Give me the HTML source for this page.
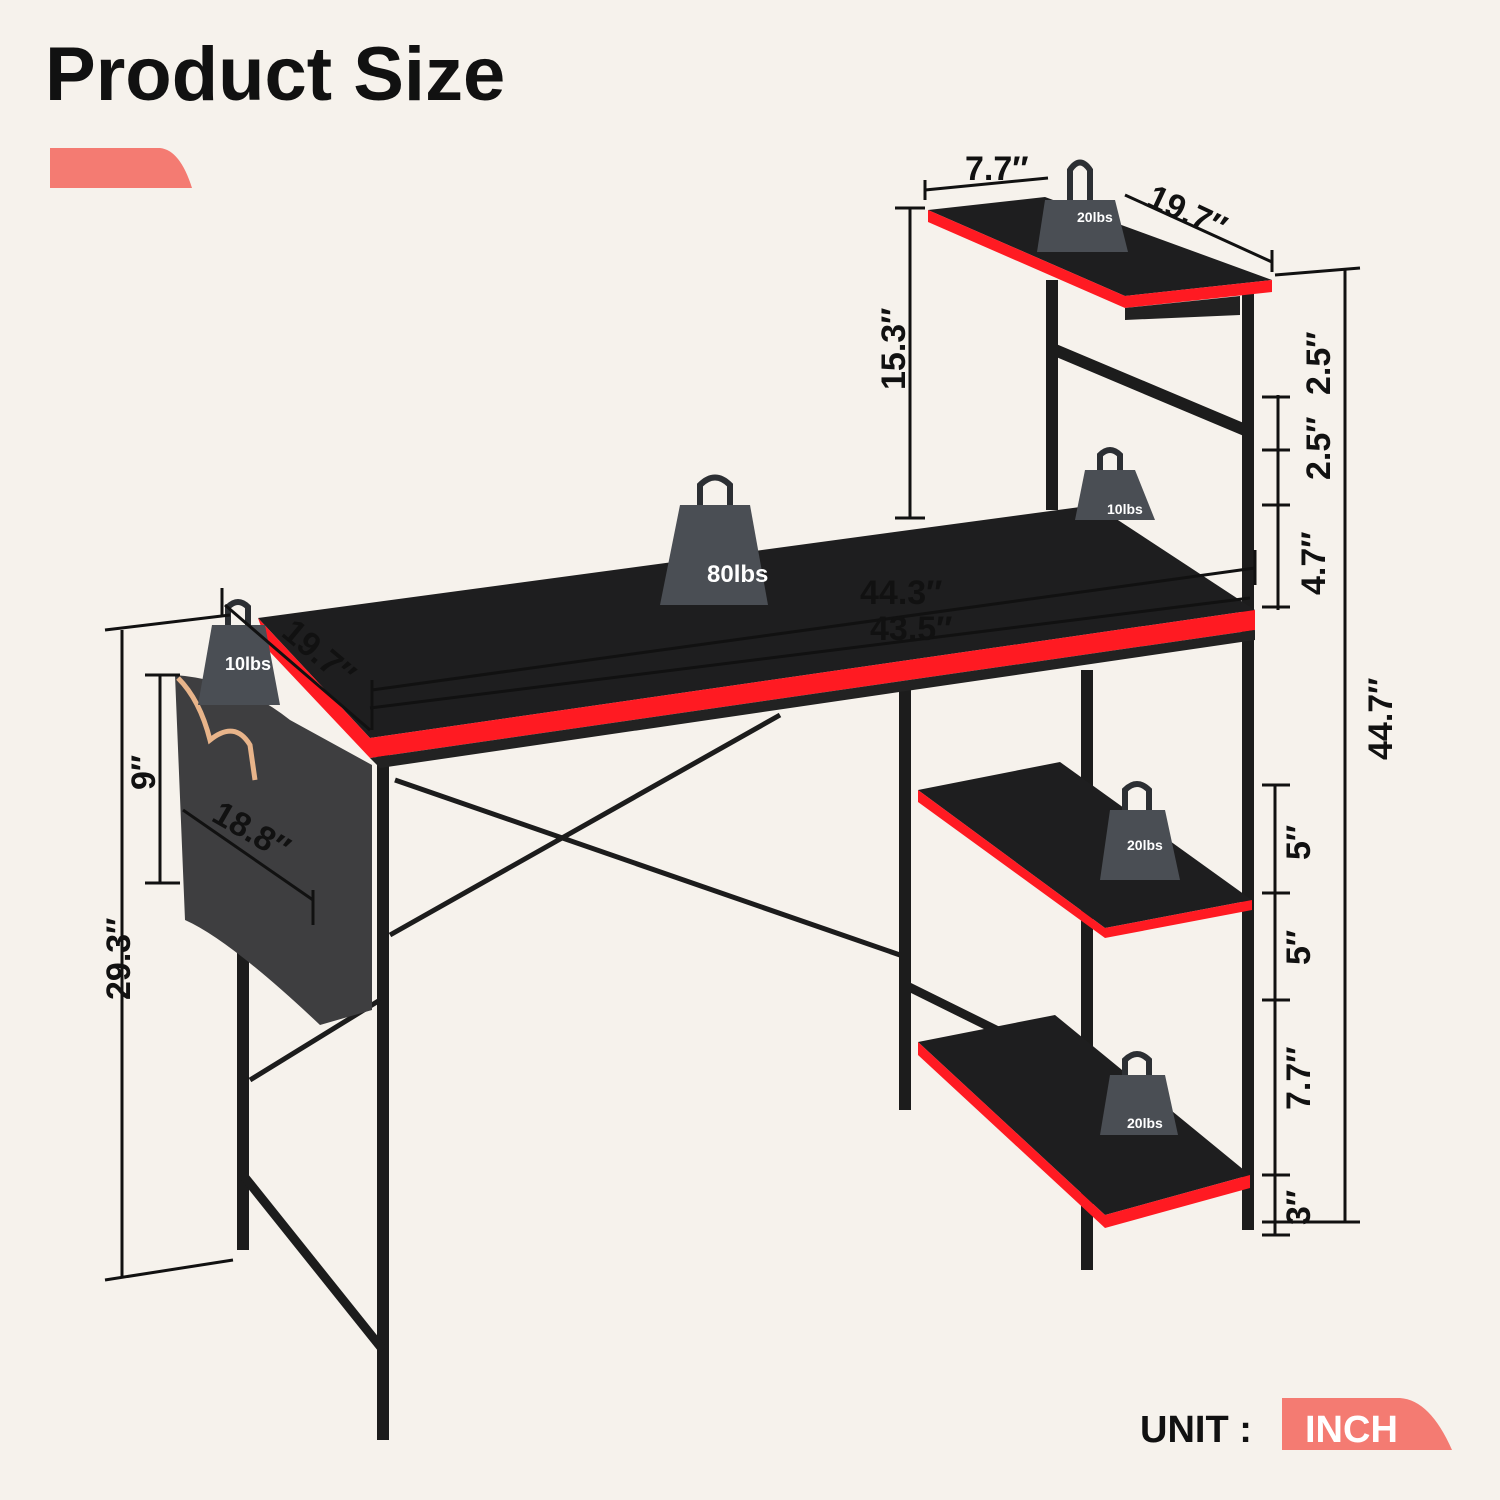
<!DOCTYPE html>
<html><head><meta charset="utf-8"><style>
html,body{margin:0;padding:0;background:#f6f2ec;overflow:hidden;}
svg{display:block}
text{font-family:"Liberation Sans",sans-serif;font-weight:bold;}
</style></head><body>
<svg width="1500" height="1500" viewBox="0 0 1500 1500" xmlns="http://www.w3.org/2000/svg">
<rect width="1500" height="1500" fill="#f6f2ec"/>
<text x="45" y="100" font-size="76" fill="#111">Product Size</text>
<path d="M50 148 H160 Q180 150 192 188 H50 Z" fill="#f47b72"/>

<g stroke="#1c1c1c" fill="none" stroke-width="12">
<line x1="383" y1="755" x2="383" y2="1440"/>
<line x1="243" y1="930" x2="243" y2="1250"/>
<line x1="1087" y1="670" x2="1087" y2="1270"/>
<line x1="905" y1="690" x2="905" y2="1110"/>
<line x1="1248" y1="290" x2="1248" y2="1230"/>
<line x1="1052" y1="280" x2="1052" y2="510"/>
<line x1="243" y1="1175" x2="383" y2="1350" stroke-width="9"/>
<line x1="905" y1="985" x2="1087" y2="1075" stroke-width="9"/>
</g>
<g stroke="#1c1c1c" stroke-width="5">
<line x1="395" y1="780" x2="900" y2="955"/>
<line x1="390" y1="935" x2="780" y2="715"/>
<line x1="250" y1="1080" x2="380" y2="1000"/>
<line x1="1055" y1="350" x2="1245" y2="430" stroke-width="12"/>
</g>
<polygon points="258,618 1095,505 1255,610 370,738" fill="#1e1e1f"/>
<polygon points="370,738 1255,610 1255,630 370,758" fill="#ff1a22"/>
<polygon points="258,618 370,738 370,758 270,652" fill="#ff1a22"/>
<polygon points="370,758 1255,630 1255,640 380,768" fill="#222"/>
<polygon points="928,210 1045,197 1272,280 1125,296" fill="#1e1e1f"/>
<polygon points="928,210 1125,296 1125,308 928,222" fill="#ff1a22"/>
<polygon points="1125,296 1272,280 1272,292 1125,308" fill="#ff1a22"/>
<polygon points="1125,308 1240,296 1240,315 1125,320" fill="#222"/>
<polygon points="918,790 1060,762 1252,900 1105,928" fill="#1e1e1f"/>
<polygon points="918,790 1105,928 1105,938 918,802" fill="#ff1a22"/>
<polygon points="1105,928 1252,900 1252,910 1105,938" fill="#ff1a22"/>
<polygon points="918,1042 1055,1015 1250,1175 1105,1215" fill="#1e1e1f"/>
<polygon points="918,1042 1105,1215 1105,1228 918,1055" fill="#ff1a22"/>
<polygon points="1105,1215 1250,1175 1250,1188 1105,1228" fill="#ff1a22"/>
<path d="M175 675 Q240 680 290 720 L372 765 L372 1010 L320 1025 Q230 940 185 920 Z" fill="#3e3e40"/>
<path d="M178 678 Q200 700 210 740 Q235 720 250 745 L255 780" stroke="#e8b48a" stroke-width="5" fill="none"/>
<g fill="#4a4e54">
<path d="M1045 200 L1115 200 L1128 252 L1037 252 Z"/>
<path d="M680 505 L750 505 L768 605 L660 605 Z"/>
<path d="M212 625 L265 625 L280 705 L198 705 Z"/>
<path d="M1085 470 L1135 470 L1155 520 L1075 520 Z"/>
<path d="M1110 810 L1165 810 L1180 880 L1100 880 Z"/>
<path d="M1110 1075 L1165 1075 L1178 1135 L1100 1135 Z"/>
</g>
<g stroke="#2c2f33" stroke-width="6" fill="none">
<path d="M1070 200 V170 Q1080 155 1090 170 V200"/>
<path d="M700 505 V485 Q715 470 730 485 V505"/>
<path d="M228 625 V607 Q238 597 248 607 V625"/>
<path d="M1100 470 V455 Q1110 445 1120 455 V470"/>
<path d="M1125 810 V790 Q1137 778 1149 790 V810"/>
<path d="M1125 1075 V1060 Q1137 1048 1149 1060 V1075"/>
</g>
<g fill="#fff" font-size="14">
<text x="1077" y="222">20lbs</text>
<text x="707" y="582" font-size="24">80lbs</text>
<text x="225" y="670" font-size="18">10lbs</text>
<text x="1107" y="514">10lbs</text>
<text x="1127" y="850">20lbs</text>
<text x="1127" y="1128">20lbs</text>
</g>
<g stroke="#111" stroke-width="3" fill="none">
<line x1="925" y1="190" x2="1048" y2="178"/>
<line x1="925" y1="180" x2="925" y2="200"/>
<line x1="1125" y1="195" x2="1272" y2="262"/>
<line x1="1272" y1="250" x2="1272" y2="272"/>
<line x1="910" y1="208" x2="910" y2="518"/><line x1="895" y1="208" x2="925" y2="208"/><line x1="895" y1="518" x2="925" y2="518"/>
<line x1="1345" y1="270" x2="1345" y2="1222"/><line x1="1275" y1="275" x2="1360" y2="268"/><line x1="1262" y1="1222" x2="1360" y2="1222"/>
<line x1="1278" y1="395" x2="1278" y2="610"/>
<line x1="1262" y1="397" x2="1290" y2="397"/><line x1="1262" y1="450" x2="1290" y2="450"/><line x1="1262" y1="505" x2="1290" y2="505"/><line x1="1262" y1="607" x2="1290" y2="607"/>
<line x1="1275" y1="785" x2="1275" y2="1235"/>
<line x1="1262" y1="785" x2="1290" y2="785"/><line x1="1262" y1="893" x2="1290" y2="893"/><line x1="1262" y1="1000" x2="1290" y2="1000"/><line x1="1262" y1="1175" x2="1290" y2="1175"/><line x1="1262" y1="1235" x2="1290" y2="1235"/>
<line x1="372" y1="690" x2="1255" y2="568"/>
<line x1="372" y1="680" x2="372" y2="730"/><line x1="1255" y1="550" x2="1255" y2="585"/>
<line x1="370" y1="708" x2="1250" y2="598"/>
<line x1="122" y1="630" x2="122" y2="1278"/>
<line x1="105" y1="630" x2="230" y2="615"/><line x1="105" y1="1280" x2="233" y2="1260"/>
<line x1="160" y1="675" x2="160" y2="883"/><line x1="145" y1="675" x2="180" y2="675"/><line x1="145" y1="883" x2="180" y2="883"/>
<line x1="183" y1="810" x2="313" y2="900"/><line x1="313" y1="890" x2="313" y2="925"/>
<line x1="222" y1="588" x2="222" y2="615"/><line x1="225" y1="605" x2="370" y2="730"/>
</g>
<g fill="#111" font-size="34">
<text x="965" y="180">7.7″</text>
<text x="1145" y="205" transform="rotate(25 1145 205)">19.7″</text>
<text x="905" y="390" transform="rotate(-90 905 390)">15.3″</text>
<text x="1330" y="395" transform="rotate(-90 1330 395)">2.5″</text>
<text x="1330" y="480" transform="rotate(-90 1330 480)">2.5″</text>
<text x="1325" y="595" transform="rotate(-90 1325 595)">4.7″</text>
<text x="1392" y="760" transform="rotate(-90 1392 760)">44.7″</text>
<text x="1310" y="860" transform="rotate(-90 1310 860)">5″</text>
<text x="1310" y="965" transform="rotate(-90 1310 965)">5″</text>
<text x="1310" y="1110" transform="rotate(-90 1310 1110)">7.7″</text>
<text x="1310" y="1225" transform="rotate(-90 1310 1225)">3″</text>
<text x="860" y="604">44.3″</text>
<text x="870" y="640">43.5″</text>
<text x="280" y="635" transform="rotate(40 280 635)">19.7″</text>
<text x="155" y="790" transform="rotate(-90 155 790)">9″</text>
<text x="210" y="820" transform="rotate(30 210 820)">18.8″</text>
<text x="130" y="1000" transform="rotate(-90 130 1000)">29.3″</text>
</g>
<path d="M1282 1398 H1400 Q1430 1400 1452 1450 H1282 Z" fill="#f47b72"/>
<text x="1140" y="1442" font-size="38" fill="#111" font-weight="normal">UNIT  :</text>
<text x="1305" y="1442" font-size="38" fill="#fff" font-weight="normal">INCH</text>
</svg>
</body></html>
